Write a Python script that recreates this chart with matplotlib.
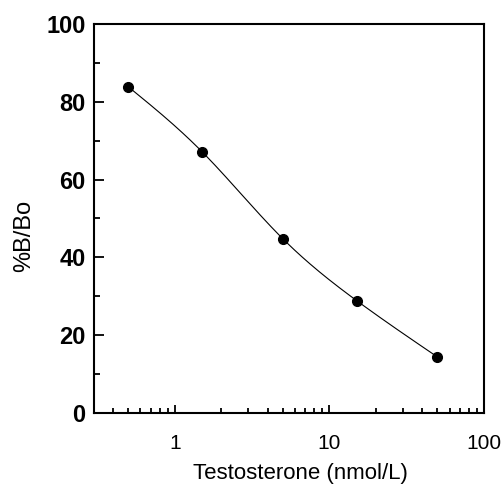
import numpy as np
import matplotlib
matplotlib.use("Agg")
import matplotlib.pyplot as plt
from matplotlib.ticker import LogLocator, MultipleLocator, FixedLocator, NullFormatter

plt.rcParams['font.family'] = ['Liberation Sans', 'DejaVu Sans']

# standard curve points
conc = [0.5, 1.5, 5, 15, 50]
bbo = [83.9, 67.2, 44.8, 28.9, 14.4]


def smooth(xs, ys, n=200):
    # natural cubic spline through the points, in log10(x)
    x = np.log10(np.array(xs, dtype=float))
    y = np.array(ys, dtype=float)
    k = len(x)
    h = np.diff(x)
    A = np.zeros((k, k))
    r = np.zeros(k)
    A[0, 0] = A[-1, -1] = 1
    for i in range(1, k - 1):
        A[i, i - 1] = h[i - 1]
        A[i, i] = 2 * (h[i - 1] + h[i])
        A[i, i + 1] = h[i]
        r[i] = 6 * ((y[i + 1] - y[i]) / h[i] - (y[i] - y[i - 1]) / h[i - 1])
    m = np.linalg.solve(A, r)
    xx = np.linspace(x[0], x[-1], n)
    yy = np.empty_like(xx)
    for j, t in enumerate(xx):
        i = min(np.searchsorted(x, t, side="right") - 1, k - 2)
        a = x[i + 1] - t
        b = t - x[i]
        yy[j] = (m[i] * a**3 + m[i + 1] * b**3) / (6 * h[i]) \
            + (y[i] / h[i] - m[i] * h[i] / 6) * a \
            + (y[i + 1] / h[i] - m[i + 1] * h[i] / 6) * b
    return 10**xx, yy


fig = plt.figure(figsize=(5.02, 4.91), dpi=100)
ax = fig.add_axes([0.187, 0.159, 0.777, 0.792])

cx, cy = smooth(conc, bbo)
ax.plot(cx, cy, color="black", lw=0.8)
ax.plot(conc, bbo, "o", color="black", markersize=7)

ax.set_xscale("log")
ax.set_xlim(0.3, 100)
ax.set_ylim(0, 100)

ax.xaxis.set_major_locator(FixedLocator([1, 10, 100]))
ax.xaxis.set_minor_locator(LogLocator(base=10, subs=np.arange(2, 10)))
ax.xaxis.set_minor_formatter(NullFormatter())
ax.set_xticklabels(["1", "10", "100"])
ax.yaxis.set_major_locator(MultipleLocator(20))
ax.yaxis.set_minor_locator(MultipleLocator(10))

for s in ax.spines.values():
    s.set_linewidth(1.5)

ax.tick_params(which="both", direction="in", top=False, right=False, width=1.3)
ax.tick_params(axis="y", which="major", length=7, labelsize=17, pad=6)
ax.tick_params(axis="y", which="minor", length=4)
ax.tick_params(axis="x", which="major", length=6, labelsize=15, pad=15)
ax.tick_params(axis="x", which="minor", length=3.5)
for lab in ax.get_yticklabels():
    lab.set_fontweight("bold")

ax.set_xlabel("Testosterone (nmol/L)", fontsize=16)
ax.xaxis.set_label_coords(0.53, -0.128)
ax.set_ylabel("%B/Bo", fontsize=17)
ax.yaxis.set_label_coords(-0.151, 0.454)

fig.savefig("out.png", dpi=100)
